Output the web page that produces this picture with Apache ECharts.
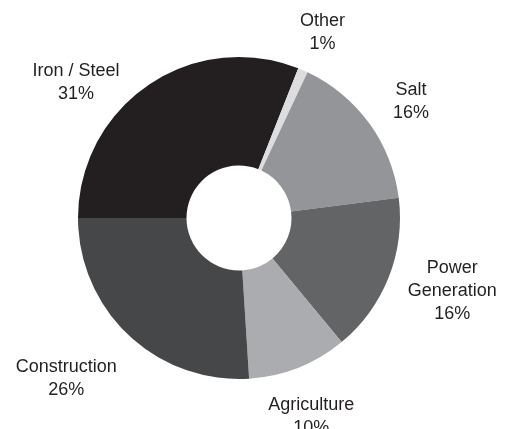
<!DOCTYPE html>
<html>
<head>
<meta charset="utf-8">
<script src="https://cdn.jsdelivr.net/npm/echarts@6/dist/echarts.min.js"></script>
<style>
  html, body { margin: 0; padding: 0; background: #ffffff; }
  #chart { width: 514px; height: 429px; }
</style>
</head>
<body>
<div id="chart"></div>
<script>
// Uses by sector, in percent (clockwise from the 9 o'clock position)
const categories = ['Iron / Steel', 'Other', 'Salt', 'Power Generation', 'Agriculture', 'Construction'];
const shares = [31, 1, 16, 16, 10, 26];
const sliceColors = ['#231f20', '#dcdddf', '#939598', '#636466', '#abacaf', '#464749'];

const cx = 239, cy = 218;
const outerR = 161, innerR = 52.5;
const labelR = 210;
// small per-label offsets so the text blocks sit clear of the ring
const labelNudge = [[-45, 38], [0, 7], [2, 7], [18, -4], [-5, 3], [-29, 7]];

const total = shares.reduce((a, b) => a + b, 0);
const startDeg = 270; // clockwise from 12 o'clock
const midAngles = [];
let acc = 0;
shares.forEach(v => {
  const span = v / total * 360;
  midAngles.push(startDeg + acc + span / 2);
  acc += span;
});

const chart = echarts.init(document.getElementById('chart'), null, { renderer: 'canvas' });
chart.setOption({
  animation: false,
  backgroundColor: '#ffffff',
  series: [{
    type: 'pie',
    center: [cx, cy],
    radius: [innerR, outerR],
    startAngle: 180,
    clockwise: true,
    avoidLabelOverlap: false,
    itemStyle: { borderWidth: 0 },
    emphasis: { disabled: true },
    label: {
      show: true,
      position: 'outside',
      color: '#231f20',
      fontFamily: 'Liberation Sans, Arial, Helvetica, sans-serif',
      fontSize: 18,
      lineHeight: 23,
      align: 'center',
      formatter: p => p.name.replace('Power ', 'Power\n') + '\n' + p.value + '%'
    },
    labelLine: { show: false },
    labelLayout: params => {
      const i = params.dataIndex;
      const a = midAngles[i] * Math.PI / 180;
      return {
        x: cx + labelR * Math.sin(a) + labelNudge[i][0],
        y: cy - labelR * Math.cos(a) + labelNudge[i][1],
        align: 'center',
        verticalAlign: 'middle'
      };
    },
    data: categories.map((c, i) => ({
      name: c,
      value: shares[i],
      itemStyle: { color: sliceColors[i] }
    }))
  }]
});
</script>
</body>
</html>
